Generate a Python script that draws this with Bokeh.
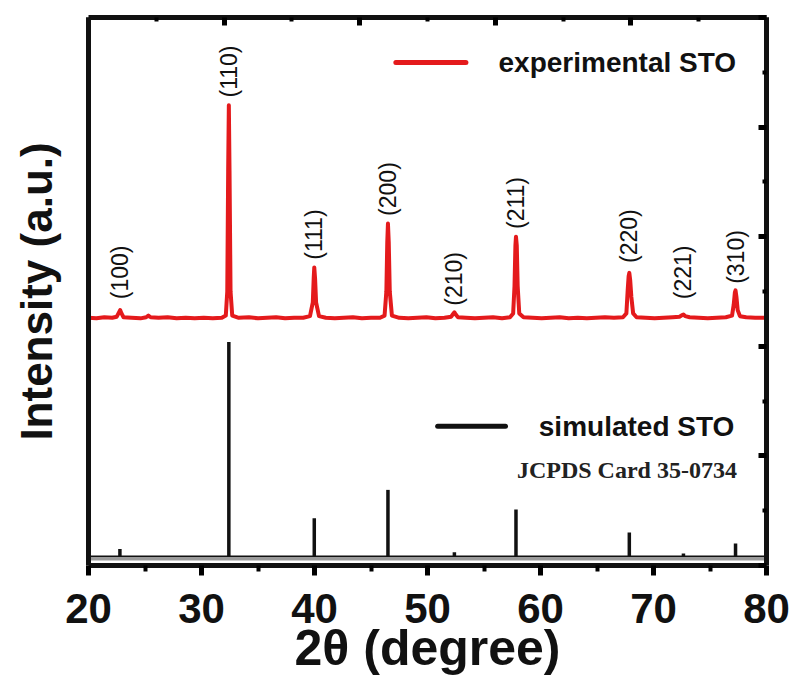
import numpy as np
from bokeh.plotting import figure
from bokeh.models import Range1d, LinearAxis, FixedTicker, Label, ColumnDataSource
from bokeh.core.properties import value
from bokeh.embed import file_html
from bokeh.resources import INLINE

# ---------------- data ----------------
# experimental XRD pattern (2theta, intensity a.u., offset upward)
exp_2theta = [20.0, 20.7, 21.4, 22.1, 22.5, 22.7, 22.8, 22.92, 23.1, 23.8, 24.6, 25.1, 25.3, 25.5,
              26.2, 27.0, 27.8, 28.6, 29.4, 30.2, 31.0, 31.8, 32.15, 32.28, 32.36, 32.42, 32.48,
              32.57, 32.72, 33.3, 34.2, 35.0, 35.8, 36.6, 37.4, 38.2, 39.0, 39.6, 39.85, 39.93,
              39.98, 40.05, 40.14, 40.4, 41.0, 41.8, 42.6, 43.4, 44.2, 45.0, 45.8, 46.2, 46.36,
              46.44, 46.5, 46.57, 46.66, 46.85, 47.5, 48.3, 49.1, 49.9, 50.7, 51.5, 52.1, 52.3,
              52.38, 52.5, 52.7, 53.4, 54.2, 55.0, 55.8, 56.6, 57.3, 57.58, 57.7, 57.78, 57.83,
              57.9, 57.98, 58.12, 58.5, 59.3, 60.1, 60.9, 61.7, 62.5, 63.3, 64.1, 64.9, 65.7,
              66.5, 67.3, 67.6, 67.72, 67.8, 67.86, 67.94, 68.04, 68.2, 68.5, 69.3, 70.1, 70.9,
              71.7, 72.3, 72.55, 72.65, 72.8, 73.2, 74.0, 74.8, 75.6, 76.4, 76.95, 77.1, 77.2,
              77.26, 77.34, 77.45, 77.65, 78.2, 79.0, 80.0]
exp_intensity = [2.26, 2.255, 2.265, 2.26, 2.27, 2.31, 2.33, 2.30, 2.265, 2.26, 2.255, 2.265, 2.28, 2.265,
                 2.26, 2.265, 2.255, 2.26, 2.255, 2.26, 2.255, 2.26, 2.28, 2.5, 3.6, 4.2, 3.6,
                 2.5, 2.28, 2.26, 2.265, 2.255, 2.26, 2.265, 2.255, 2.26, 2.26, 2.275, 2.4, 2.62,
                 2.72, 2.62, 2.4, 2.275, 2.26, 2.255, 2.26, 2.265, 2.255, 2.26, 2.26, 2.28, 2.5,
                 2.95, 3.12, 2.95, 2.5, 2.28, 2.26, 2.255, 2.26, 2.265, 2.255, 2.26, 2.27, 2.3,
                 2.31, 2.29, 2.265, 2.26, 2.255, 2.26, 2.265, 2.255, 2.265, 2.3, 2.55, 2.92, 3.0,
                 2.92, 2.55, 2.3, 2.265, 2.26, 2.255, 2.26, 2.265, 2.255, 2.26, 2.255, 2.26, 2.265,
                 2.26, 2.265, 2.3, 2.52, 2.64, 2.67, 2.6, 2.45, 2.3, 2.265, 2.26, 2.255, 2.26,
                 2.265, 2.27, 2.285, 2.29, 2.275, 2.265, 2.26, 2.255, 2.26, 2.265, 2.28, 2.38, 2.49,
                 2.51, 2.45, 2.33, 2.275, 2.265, 2.26, 2.26]

# simulated pattern (JCPDS 35-0734), stick positions and heights
hkl = ["(100)", "(110)", "(111)", "(200)", "(210)", "(211)", "(220)", "(221)", "(310)"]
sim_2theta = [22.78, 32.42, 39.98, 46.5, 52.38, 57.83, 67.86, 72.65, 77.26]
sim_intensity = [0.15, 2.04, 0.43, 0.69, 0.12, 0.51, 0.30, 0.11, 0.20]
sim_baseline = 0.085
# label anchor heights (bottom of each rotated hkl label)
hkl_label_y = [2.43, 4.27, 2.79, 3.19, 2.37, 3.07, 2.76, 2.43, 2.57]

x_ticks = [20, 30, 40, 50, 60, 70, 80]

# ---------------- styling ----------------
RED = "#e41a1c"
BLACK = "#111111"
SANS = "Liberation Sans"

p = figure(width=794, height=678, output_backend="svg", toolbar_location=None,
           x_range=Range1d(20, 80), y_range=Range1d(0, 5),
           min_border_left=88, min_border_right=28, min_border_top=17, min_border_bottom=113)
p.xgrid.visible = False
p.ygrid.visible = False
p.outline_line_color = None
p.background_fill_color = "white"
p.border_fill_color = "white"

# bottom axis
ax = p.xaxis[0]
ax.ticker = FixedTicker(ticks=x_ticks, minor_ticks=[25, 35, 45, 55, 65, 75])
ax.axis_line_width = 5
ax.axis_line_color = BLACK
ax.major_tick_line_width = 5
ax.minor_tick_line_width = 4
ax.major_tick_in = 0
ax.major_tick_out = 10
ax.minor_tick_in = 0
ax.minor_tick_out = 6
ax.major_label_text_font = SANS
ax.major_label_text_font_style = "bold"
ax.major_label_text_font_size = "42px"
ax.major_label_text_color = BLACK
ax.major_label_standoff = 18
ax.axis_label = "2θ (degree)"
ax.axis_label_text_font = SANS
ax.axis_label_text_font_style = "bold"
ax.axis_label_text_font_size = "50px"
ax.axis_label_text_color = BLACK
ax.axis_label_standoff = -6

# left axis
ay = p.yaxis[0]
ay.ticker = FixedTicker(ticks=[])
ay.axis_line_width = 5
ay.axis_line_color = BLACK
ay.major_tick_line_color = None
ay.minor_tick_line_color = None
ay.axis_label = "Intensity (a.u.)"
ay.axis_label_text_font = SANS
ay.axis_label_text_font_style = "bold"
ay.axis_label_text_font_size = "44px"
ay.axis_label_text_color = BLACK
ay.axis_label_standoff = 28

# top axis (ticks inside, no labels)
top = LinearAxis(ticker=FixedTicker(ticks=[20, 32, 44, 56, 68, 80], minor_ticks=[26, 38, 50, 62, 74]),
                 axis_line_width=5, axis_line_color=BLACK,
                 major_tick_line_width=5, minor_tick_line_width=4,
                 major_tick_in=8, major_tick_out=0, minor_tick_in=4, minor_tick_out=0,
                 major_label_text_color=None, major_label_text_font_size="1px",
                 major_label_standoff=0)
p.add_layout(top, "above")

# right axis (ticks inside, no labels)
right = LinearAxis(ticker=FixedTicker(ticks=[0, 1, 2, 3, 4, 5], minor_ticks=[0.5, 1.5, 2.5, 3.5, 4.5]),
                   axis_line_width=5, axis_line_color=BLACK,
                   major_tick_line_width=5, minor_tick_line_width=4,
                   major_tick_in=8, major_tick_out=0, minor_tick_in=4, minor_tick_out=0,
                   major_label_text_color=None, major_label_text_font_size="1px",
                   major_label_standoff=0)
p.add_layout(right, "right")

# simulated pattern: baseline (gray band + black line) and sticks
p.line([20, 80], [sim_baseline - 0.02, sim_baseline - 0.02], line_color="#9a9a9a", line_width=4)
p.line([20, 80], [sim_baseline, sim_baseline], line_color=BLACK, line_width=1.5)
sim_src = ColumnDataSource(dict(x=sim_2theta, y0=[sim_baseline] * len(sim_2theta), y1=sim_intensity))
p.segment(x0="x", y0="y0", x1="x", y1="y1", source=sim_src, line_color=BLACK, line_width=3.5)

# experimental pattern
p.line(exp_2theta, exp_intensity, line_color=RED, line_width=4, line_join="round")

# hkl labels (rotated)
lab_src = ColumnDataSource(dict(x=sim_2theta, y=hkl_label_y, t=hkl))
p.text(x="x", y="y", text="t", source=lab_src, angle=np.pi / 2,
       text_font=value(SANS), text_font_size=value("23px"), text_color=BLACK,
       text_align="left", text_baseline="middle")

# legend entries
p.line([47.2, 53.4], [4.59, 4.59], line_color=RED, line_width=5, line_cap="round")
p.add_layout(Label(x=66.8, y=4.59, text="experimental STO", text_font=SANS,
                   text_font_style="bold", text_font_size="28px", text_color=BLACK,
                   text_align="center", text_baseline="middle"))
p.line([50.9, 56.9], [1.27, 1.27], line_color=BLACK, line_width=5, line_cap="round")
p.add_layout(Label(x=68.5, y=1.27, text="simulated STO", text_font=SANS,
                   text_font_style="bold", text_font_size="28px", text_color=BLACK,
                   text_align="center", text_baseline="middle"))
p.add_layout(Label(x=67.65, y=0.87, text="JCPDS Card 35-0734", text_font="Liberation Serif",
                   text_font_style="bold", text_font_size="24px", text_color="#222222",
                   text_align="center", text_baseline="middle"))

open("out.html", "w").write(file_html(p, INLINE))
